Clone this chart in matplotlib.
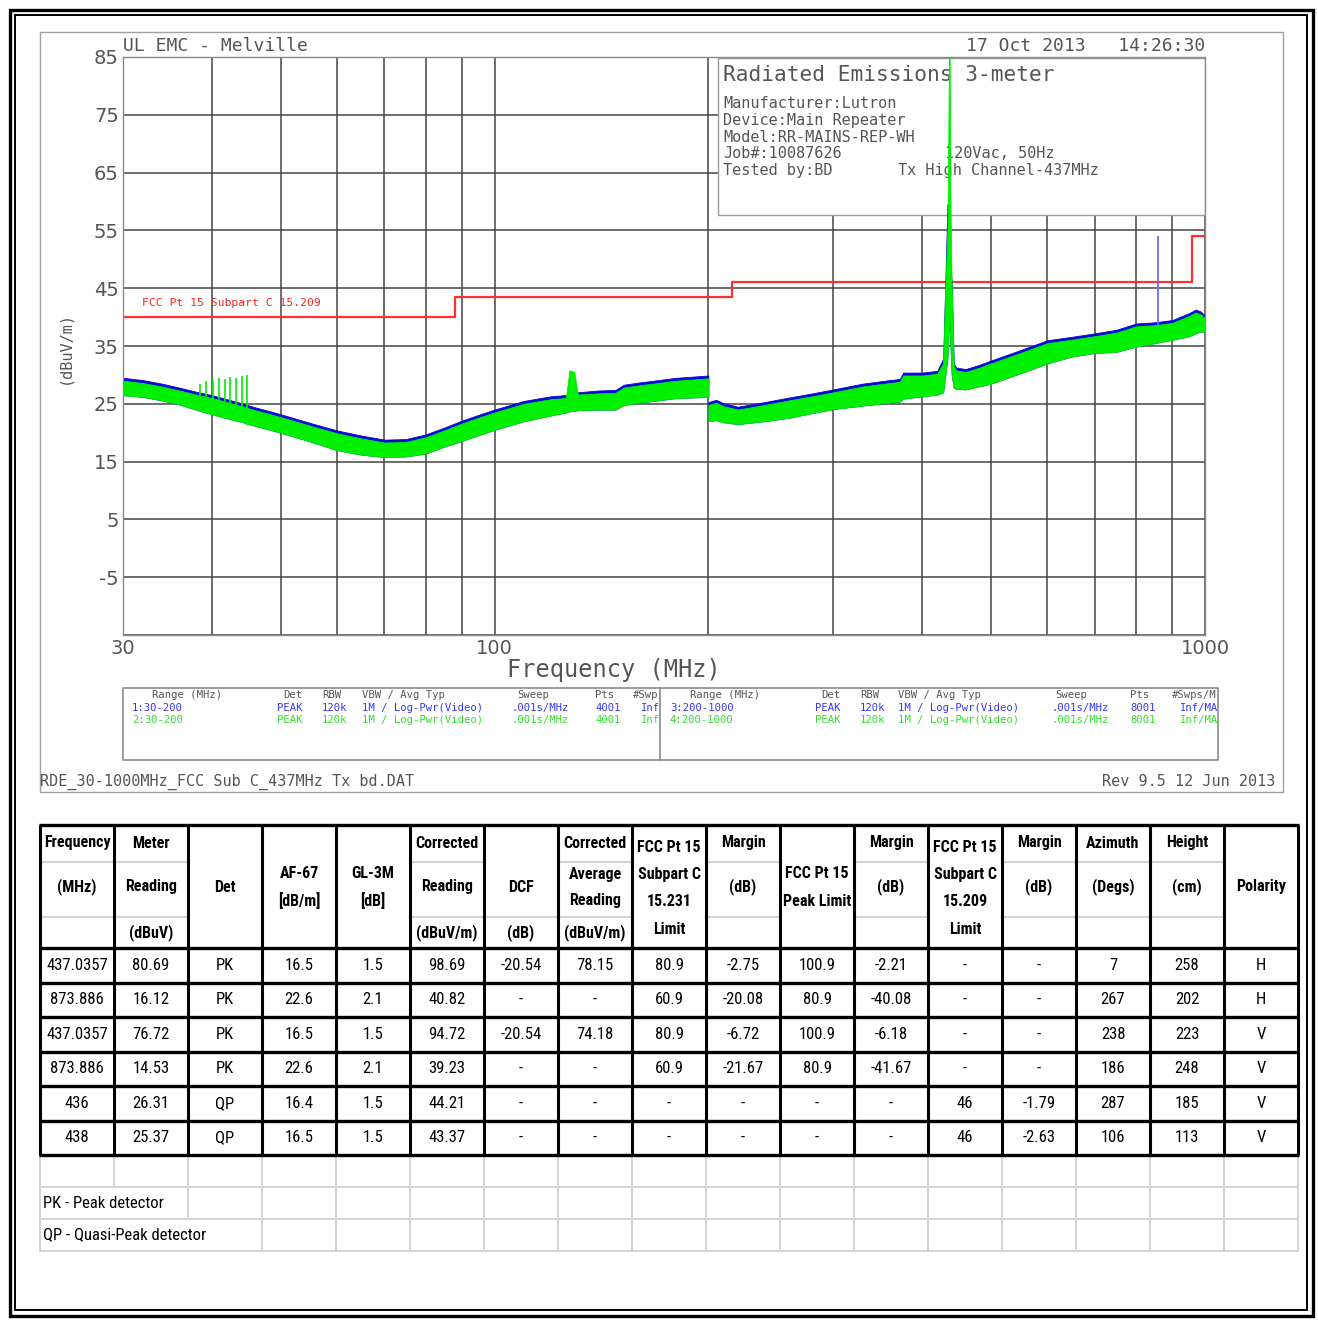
import matplotlib
matplotlib.use("Agg")
import matplotlib.pyplot as plt
from matplotlib import font_manager
from matplotlib.patches import Rectangle

# ── Trace envelopes, range 1/2: 30-200 MHz (dBuV/m) ──────────────────────────
FREQ_A = [30, 32, 34, 36, 38, 40, 42, 44, 46, 48, 50, 55, 60, 65, 70, 75, 80, 85,
          90, 95, 100, 110, 120, 126, 127.5, 129.5, 131, 140, 148, 152, 160, 170,
          180, 190, 200]
GREEN_LO_A = [26.5, 26.2, 25.6, 24.9, 24.0, 23.2, 22.5, 21.9, 21.2, 20.6, 20.0, 18.5,
              17.0, 16.2, 15.8, 15.9, 16.4, 17.6, 18.6, 19.6, 20.5, 22.0, 23.0, 23.5,
              23.7, 23.8, 23.9, 24.0, 24.0, 24.8, 25.2, 25.6, 26.0, 26.1, 26.2]
GREEN_HI_A = [29.0, 28.6, 28.0, 27.3, 26.6, 26.0, 25.3, 24.6, 23.9, 23.3, 22.7, 21.2,
              19.9, 19.0, 18.3, 18.4, 19.2, 20.4, 21.6, 22.6, 23.5, 25.0, 25.8, 26.0,
              30.8, 30.5, 26.6, 26.8, 26.9, 27.8, 28.2, 28.6, 29.0, 29.2, 29.4]
BLUE_HI_A = [29.5, 29.1, 28.5, 27.8, 27.1, 26.5, 25.8, 25.1, 24.4, 23.8, 23.2, 21.7,
             20.4, 19.5, 18.8, 18.9, 19.7, 20.9, 22.1, 23.1, 24.0, 25.5, 26.3, 26.5,
             26.6, 26.8, 27.0, 27.3, 27.4, 28.3, 28.7, 29.1, 29.5, 29.7, 29.9]

# comb of narrow spikes on trace 2 around 40 MHz
COMB_F = [38.5, 39.3, 40.1, 40.9, 41.7, 42.5, 43.3, 44.1, 44.9]
COMB_BOT = [24.0, 23.6, 23.2, 22.9, 22.5, 22.2, 21.9, 21.6, 21.3]
COMB_TOP = [28.4, 28.9, 29.2, 29.5, 29.3, 29.7, 29.4, 29.8, 29.9]

# ── Trace envelopes, range 3/4: 200-1000 MHz ──────────────────────────────────
FREQ_B = [200, 205, 210, 220, 240, 260, 280, 300, 330, 360, 372, 376, 400, 420, 428,
          431, 434, 435, 436.5, 437, 438, 440, 443, 446, 460, 480, 500, 550, 600, 650,
          700, 750, 800, 850, 900, 950, 970, 985, 1000]
GREEN_LO_B = [22.0, 22.2, 21.8, 21.5, 22.0, 22.6, 23.4, 24.1, 24.7, 25.2, 25.4, 25.9,
              26.3, 26.6, 27.0, 30.0, 33.0, 36.0, 40.0, 40.0, 36.0, 30.0, 27.8, 27.6,
              27.5, 28.0, 28.5, 30.3, 32.0, 33.2, 33.8, 34.0, 34.9, 35.5, 36.1, 36.7,
              37.2, 37.5, 37.5]
GREEN_HI_B = [24.8, 25.2, 24.6, 24.0, 24.8, 25.6, 26.3, 27.0, 28.0, 28.6, 28.8, 29.9,
              29.9, 30.2, 32.0, 45.0, 55.0, 68.0, 90.0, 90.0, 62.0, 45.0, 31.5, 30.8,
              30.5, 31.2, 32.0, 33.8, 35.5, 36.1, 36.7, 37.3, 38.4, 38.6, 39.0, 40.2,
              40.8, 40.5, 39.8]
BLUE_HI_B = [25.3, 25.7, 25.1, 24.5, 25.3, 26.1, 26.8, 27.5, 28.5, 29.1, 29.3, 30.4,
             30.4, 30.7, 32.8, 46.0, 59.5, 59.5, 52.0, 50.0, 50.0, 46.0, 32.0, 31.3,
             31.0, 31.7, 32.5, 34.3, 36.0, 36.6, 37.2, 37.8, 38.9, 39.1, 39.5, 40.7,
             41.3, 41.0, 40.3]

# isolated spike on trace 3
SPIKE_F = [858]
SPIKE_BOT = [38.0]
SPIKE_TOP = [54.0]

# ── FCC Pt 15 Subpart C 15.209 limit ─────────────────────────────────────────
LIMIT_F = [30, 88, 216, 960, 1000]
LIMIT_DB = [40, 43.5, 46, 54, 54]

# ── Result table ─────────────────────────────────────────────────────────────
HEADERS = [
    ["Frequency", "(MHz)"],
    ["Meter", "Reading", "(dBuV)"],
    ["Det"],
    ["AF-67", "[dB/m]"],
    ["GL-3M", "[dB]"],
    ["Corrected", "Reading", "(dBuV/m)"],
    ["DCF", "(dB)"],
    ["Corrected", "Average", "Reading", "(dBuV/m)"],
    ["FCC Pt 15", "Subpart C", "15.231", "Limit"],
    ["Margin", "(dB)"],
    ["FCC Pt 15", "Peak Limit"],
    ["Margin", "(dB)"],
    ["FCC Pt 15", "Subpart C", "15.209", "Limit"],
    ["Margin", "(dB)"],
    ["Azimuth", "(Degs)"],
    ["Height", "(cm)"],
    ["Polarity"],
]
FREQ_MHZ = ["437.0357", "873.886", "437.0357", "873.886", "436", "438"]
METER = ["80.69", "16.12", "76.72", "14.53", "26.31", "25.37"]
DET = ["PK", "PK", "PK", "PK", "QP", "QP"]
AF67 = ["16.5", "22.6", "16.5", "22.6", "16.4", "16.5"]
GL3M = ["1.5", "2.1", "1.5", "2.1", "1.5", "1.5"]
CORR = ["98.69", "40.82", "94.72", "39.23", "44.21", "43.37"]
DCF = ["-20.54", "-", "-20.54", "-", "-", "-"]
CORR_AVG = ["78.15", "-", "74.18", "-", "-", "-"]
LIM_231 = ["80.9", "60.9", "80.9", "60.9", "-", "-"]
MARGIN_231 = ["-2.75", "-20.08", "-6.72", "-21.67", "-", "-"]
LIM_PEAK = ["100.9", "80.9", "100.9", "80.9", "-", "-"]
MARGIN_PEAK = ["-2.21", "-40.08", "-6.18", "-41.67", "-", "-"]
LIM_209 = ["-", "-", "-", "-", "46", "46"]
MARGIN_209 = ["-", "-", "-", "-", "-1.79", "-2.63"]
AZIMUTH = ["7", "267", "238", "186", "287", "106"]
HEIGHT = ["258", "202", "223", "248", "185", "113"]
POLARITY = ["H", "H", "V", "V", "V", "V"]

TABLE_COLS = [FREQ_MHZ, METER, DET, AF67, GL3M, CORR, DCF, CORR_AVG, LIM_231,
              MARGIN_231, LIM_PEAK, MARGIN_PEAK, LIM_209, MARGIN_209, AZIMUTH,
              HEIGHT, POLARITY]

GREEN = "#00f000"
BLUE = "#0a0ad8"
GRAYTXT = "#555555"
MONO = "DejaVu Sans Mono"

# narrow face for the table if one is installed, else a tighter size of Roboto
_have = {f.name for f in font_manager.fontManager.ttflist}
for _cand in ["Liberation Sans Narrow", "Roboto Condensed", "Open Sans Condensed",
              "Arial Narrow"]:
    if _cand in _have:
        TABLE_FONT, HDR_FS, CELL_FS = _cand, 11.5, 12
        break
else:
    TABLE_FONT, HDR_FS, CELL_FS = "Roboto", 10.5, 11.5

W, H = 1318, 1320
fig = plt.figure(figsize=(W / 100, H / 100), dpi=100, facecolor="white")

# overlay in pixel units for frames, captions and the table
ov = fig.add_axes([0, 0, 1, 1])
ov.set_xlim(0, W)
ov.set_ylim(H, 0)
ov.axis("off")

# ── spectrum axes ────────────────────────────────────────────────────────────
AX_L, AX_T, AX_R, AX_B = 123, 57, 1205, 635
ax = fig.add_axes([AX_L / W, 1 - AX_B / H, (AX_R - AX_L) / W, (AX_B - AX_T) / H])


def axfrac(x, y):
    return (x - AX_L) / (AX_R - AX_L), (AX_B - y) / (AX_B - AX_T)


ax.set_xscale("log")
ax.set_axisbelow(True)
ax.set_xticks([30, 100, 1000])
ax.set_xticklabels(["30", "100", "1000"])
ax.set_xticks([40, 50, 60, 70, 80, 90, 200, 300, 400, 500, 600, 700, 800, 900],
              minor=True)
ax.set_xticklabels([], minor=True)
ax.set_yticks(list(range(-15, 86, 10)))
ax.set_yticklabels([""] + [str(v) for v in range(-5, 86, 10)])
ax.tick_params(which="both", length=0, labelsize=14, labelcolor=GRAYTXT, pad=3)
ax.grid(True, which="both", color="#454545", lw=1.1)
for sp in ax.spines.values():
    sp.set_color("#8a8a8a")
    sp.set_linewidth(1.0)

# info box sits over the grid but under the traces
bx0, by0 = axfrac(718, 215)
bx1, by1 = axfrac(1205, 58)
ax.add_patch(Rectangle((bx0, by0), bx1 - bx0, by1 - by0, transform=ax.transAxes,
                       facecolor="white", edgecolor="#9a9a9a", lw=1.0, zorder=1.2))
info = [
    ("Radiated Emissions 3-meter", 723, 75, 15.2),
    ("Manufacturer:Lutron", 723, 104, 11),
    ("Device:Main Repeater", 723, 121, 11),
    ("Model:RR-MAINS-REP-WH", 723, 137, 11),
    ("Job#:10087626", 723, 154, 11),
    ("120Vac, 50Hz", 945, 154, 11),
    ("Tested by:BD", 723, 171, 11),
    ("Tx High Channel-437MHz", 898, 171, 11),
]
for s, x, y, fs in info:
    tx, ty = axfrac(x, y)
    ax.text(tx, ty, s, transform=ax.transAxes, fontsize=fs, family=MONO,
            color=GRAYTXT, ha="left", va="center", zorder=1.5)

# limit line
ax.plot(LIMIT_F, LIMIT_DB, drawstyle="steps-post", color="#ff3030", lw=1.6,
        zorder=1.8)
lx, ly = axfrac(142, 303)
ax.text(lx, ly, "FCC Pt 15 Subpart C 15.209", transform=ax.transAxes, fontsize=8.2,
        family=MONO, color="#ff2020", ha="left", va="center", zorder=1.8)

# traces 1/3 (blue) under traces 2/4 (green)
for f, lo, bhi, ghi in [(FREQ_A, GREEN_LO_A, BLUE_HI_A, GREEN_HI_A),
                        (FREQ_B, GREEN_LO_B, BLUE_HI_B, GREEN_HI_B)]:
    ax.fill_between(f, lo, bhi, color=BLUE, lw=0.6, zorder=2)
    ax.fill_between(f, lo, ghi, color=GREEN, lw=0.6, zorder=3)
ax.vlines(COMB_F, COMB_BOT, COMB_TOP, color=GREEN, lw=1.2, zorder=3)
ax.vlines(SPIKE_F, SPIKE_BOT, SPIKE_TOP, color="#6a6aff", lw=1.3, zorder=2)

ax.set_xlim(30, 1000)
ax.set_ylim(-15, 85)

# ── captions around the spectrum ─────────────────────────────────────────────
ov.add_patch(Rectangle((40, 32), 1243, 760, fill=False, edgecolor="#a0a0a0", lw=1.0))
ov.text(123, 46, "UL EMC - Melville", fontsize=13, family=MONO, color=GRAYTXT,
        ha="left", va="center")
ov.text(1205, 46, "17 Oct 2013   14:26:30", fontsize=13, family=MONO,
        color=GRAYTXT, ha="right", va="center")
ov.text(614, 670, "Frequency (MHz)", fontsize=17, family=MONO, color=GRAYTXT,
        ha="center", va="center")
ov.text(65, 347, "(dBuV/m)", fontsize=11, family=MONO, color=GRAYTXT,
        ha="center", va="center", rotation=90)
ov.text(40, 782, "RDE_30-1000MHz_FCC Sub C_437MHz Tx bd.DAT", fontsize=10.9,
        family=MONO, color=GRAYTXT, ha="left", va="center")
ov.text(1275, 782, "Rev 9.5 12 Jun 2013", fontsize=10.9, family=MONO,
        color=GRAYTXT, ha="right", va="center")

# sweep settings box
ov.add_patch(Rectangle((123, 688), 1095, 72, fill=False, edgecolor="#8a8a8a", lw=1.2))
ov.plot([660, 660], [688, 760], color="#8a8a8a", lw=1.2)
settings = [
    # (y, colour, [(x, text), ...])
    (695, GRAYTXT, [(152, "Range (MHz)"), (283, "Det"), (322, "RBW"),
                    (362, "VBW / Avg Typ"), (517, "Sweep"), (595, "Pts"),
                    (633, "#Swp"),
                    (690, "Range (MHz)"), (821, "Det"), (860, "RBW"),
                    (898, "VBW / Avg Typ"), (1055, "Sweep"), (1130, "Pts"),
                    (1172, "#Swps/M")]),
    (708, "#3535ff", [(132, "1:30-200"), (277, "PEAK"), (322, "120k"),
                      (362, "1M / Log-Pwr(Video)"), (511, ".001s/MHz"),
                      (595, "4001"), (641, "Inf"),
                      (670, "3:200-1000"), (815, "PEAK"), (860, "120k"),
                      (898, "1M / Log-Pwr(Video)"), (1052, ".001s/MHz"),
                      (1130, "8001"), (1180, "Inf/MA")]),
    (720, "#30e030", [(132, "2:30-200"), (277, "PEAK"), (322, "120k"),
                      (362, "1M / Log-Pwr(Video)"), (511, ".001s/MHz"),
                      (595, "4001"), (641, "Inf"),
                      (670, "4:200-1000"), (815, "PEAK"), (860, "120k"),
                      (898, "1M / Log-Pwr(Video)"), (1052, ".001s/MHz"),
                      (1130, "8001"), (1180, "Inf/MA")]),
]
for y, col, items in settings:
    for x, s in items:
        ov.text(x, y, s, fontsize=7.6, family=MONO, color=col, ha="left",
                va="center")

# ── result table ─────────────────────────────────────────────────────────────
T_L, T_TOP, T_HDR_B = 40, 825, 948
COL_W = 74
ROW_H = 34.5
ncol = len(HEADERS)
xs = [T_L + COL_W * i for i in range(ncol + 1)]
row_edges = [T_HDR_B + ROW_H * k for k in range(len(FREQ_MHZ) + 1)]
T_DATA_B = row_edges[-1]
extra_rows = [T_DATA_B, T_DATA_B + 32, T_DATA_B + 64, T_DATA_B + 96]

# header sub-row separators (light grey) in the split header cells
SUB1, SUB2 = 862, 917
split1 = [0, 1, 5, 7, 9, 11, 13, 14, 15]
split2 = [0, 1, 5, 6, 7, 9, 11, 13, 14, 15]
LGRAY = "#d3d3d3"
for c in split1:
    ov.plot([xs[c], xs[c + 1]], [SUB1, SUB1], color=LGRAY, lw=1.6)
for c in split2:
    ov.plot([xs[c], xs[c + 1]], [SUB2, SUB2], color=LGRAY, lw=1.6)

# light grid for the notes rows
for y in extra_rows[1:]:
    ov.plot([xs[0], xs[-1]], [y, y], color=LGRAY, lw=1.4)
for i, x in enumerate(xs):
    ov.plot([x, x], [extra_rows[0], extra_rows[1]], color=LGRAY, lw=1.4)
    if i == 0 or i >= 2:
        ov.plot([x, x], [extra_rows[1], extra_rows[2]], color=LGRAY, lw=1.4)
    if i == 0 or i >= 3:
        ov.plot([x, x], [extra_rows[2], extra_rows[3]], color=LGRAY, lw=1.4)

# heavy borders
for y in [T_TOP] + row_edges:
    ov.plot([xs[0] - 1, xs[-1] + 1], [y, y], color="black", lw=2.4,
            solid_capstyle="butt")
for x in xs:
    ov.plot([x, x], [T_TOP, T_DATA_B], color="black", lw=2.2, solid_capstyle="butt")

# header text; vertical slots depend on how many lines a cell holds
slot_y = {
    1: [887],
    2: [843, 887],
    3: [843, 887, 933],
    4: [847, 874, 901, 929],
}
for c, lines in enumerate(HEADERS):
    ys = slot_y[len(lines)]
    if c in (3, 4, 10):
        ys = [874, 901]
    if c == 6:
        ys = [887, 933]
    if c == 7:
        ys = [843, 875, 901, 933]
    cx = (xs[c] + xs[c + 1]) / 2
    for s, y in zip(lines, ys):
        ov.text(cx, y, s, fontsize=HDR_FS, family=TABLE_FONT, fontweight="bold",
                ha="center", va="center", color="black")

# data cells
for c, column in enumerate(TABLE_COLS):
    cx = (xs[c] + xs[c + 1]) / 2
    for r, s in enumerate(column):
        cy = (row_edges[r] + row_edges[r + 1]) / 2
        ov.text(cx, cy, s, fontsize=CELL_FS, family=TABLE_FONT, ha="center",
                va="center", color="black")

ov.text(43, (extra_rows[1] + extra_rows[2]) / 2, "PK - Peak detector",
        fontsize=CELL_FS, family=TABLE_FONT, ha="left", va="center")
ov.text(43, (extra_rows[2] + extra_rows[3]) / 2, "QP - Quasi-Peak detector",
        fontsize=CELL_FS, family=TABLE_FONT, ha="left", va="center")

# outer double frame
ov.add_patch(Rectangle((9.5, 9.5), 1303, 1306, fill=False, edgecolor="black", lw=2.4))
ov.add_patch(Rectangle((15, 15), 1292, 1295, fill=False, edgecolor="black", lw=1.4))

fig.savefig("out.png", dpi=100, facecolor="white")
